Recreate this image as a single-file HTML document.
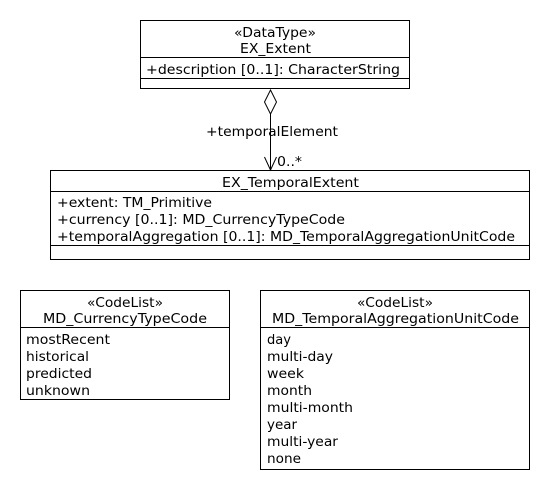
<!DOCTYPE html>
<html><head><meta charset="utf-8"><style>
html,body{margin:0;padding:0;background:#fff}
svg{display:block}
text{font-family:"DejaVu Sans","Liberation Sans",sans-serif;font-size:13px;fill:#000}
</style></head><body>
<svg width="550" height="490" viewBox="0 0 550 490" xmlns="http://www.w3.org/2000/svg">
<g fill="#fff" stroke="#000" stroke-width="1">
<rect x="140.5" y="20.5" width="269" height="68"/>
<line x1="140" y1="57.5" x2="410" y2="57.5"/>
<line x1="140" y1="78.5" x2="410" y2="78.5"/>
<rect x="50.5" y="170.5" width="479" height="89"/>
<line x1="50" y1="191.5" x2="530" y2="191.5"/>
<line x1="50" y1="245.5" x2="530" y2="245.5"/>
<rect x="20.5" y="290.5" width="209" height="109"/>
<line x1="20" y1="327.5" x2="230" y2="327.5"/>
<rect x="260.5" y="290.5" width="269" height="179"/>
<line x1="260" y1="327.5" x2="530" y2="327.5"/>
<polygon points="270.5,90 276.5,102 270.5,114 264.5,102"/>
<line x1="270.5" y1="114" x2="270.5" y2="170"/>
<polyline points="264.5,157 270.5,170 276.5,157" fill="none"/>
</g>
<g lengthAdjust="spacingAndGlyphs">
<text x="234" y="37" textLength="82" lengthAdjust="spacingAndGlyphs">«DataType»</text>
<text x="240" y="53" textLength="71" lengthAdjust="spacingAndGlyphs">EX_Extent</text>
<text x="146" y="74" textLength="254" lengthAdjust="spacingAndGlyphs">+description [0..1]: CharacterString</text>
<text x="206" y="136" textLength="132" lengthAdjust="spacingAndGlyphs">+temporalElement</text>
<text x="277" y="166" textLength="25" lengthAdjust="spacingAndGlyphs">0..*</text>
<text x="222" y="187" textLength="137" lengthAdjust="spacingAndGlyphs">EX_TemporalExtent</text>
<text x="57" y="207" textLength="155" lengthAdjust="spacingAndGlyphs">+extent: TM_Primitive</text>
<text x="57" y="224" textLength="288" lengthAdjust="spacingAndGlyphs">+currency [0..1]: MD_CurrencyTypeCode</text>
<text x="57" y="241" textLength="458" lengthAdjust="spacingAndGlyphs">+temporalAggregation [0..1]: MD_TemporalAggregationUnitCode</text>
<text x="87" y="307" textLength="76" lengthAdjust="spacingAndGlyphs">«CodeList»</text>
<text x="43" y="323" textLength="164" lengthAdjust="spacingAndGlyphs">MD_CurrencyTypeCode</text>
<text x="26" y="344" textLength="84" lengthAdjust="spacingAndGlyphs">mostRecent</text>
<text x="26" y="361" textLength="63" lengthAdjust="spacingAndGlyphs">historical</text>
<text x="26" y="378" textLength="66" lengthAdjust="spacingAndGlyphs">predicted</text>
<text x="26" y="395" textLength="64" lengthAdjust="spacingAndGlyphs">unknown</text>
<text x="357" y="307" textLength="76" lengthAdjust="spacingAndGlyphs">«CodeList»</text>
<text x="272" y="323" textLength="247" lengthAdjust="spacingAndGlyphs">MD_TemporalAggregationUnitCode</text>
<text x="267" y="344" textLength="24" lengthAdjust="spacingAndGlyphs">day</text>
<text x="267" y="361" textLength="66" lengthAdjust="spacingAndGlyphs">multi-day</text>
<text x="267" y="378" textLength="37" lengthAdjust="spacingAndGlyphs">week</text>
<text x="267" y="395" textLength="45" lengthAdjust="spacingAndGlyphs">month</text>
<text x="267" y="412" textLength="86" lengthAdjust="spacingAndGlyphs">multi-month</text>
<text x="267" y="429" textLength="30" lengthAdjust="spacingAndGlyphs">year</text>
<text x="267" y="446" textLength="71" lengthAdjust="spacingAndGlyphs">multi-year</text>
<text x="267" y="463" textLength="34" lengthAdjust="spacingAndGlyphs">none</text>
</g>
</svg>
</body></html>
